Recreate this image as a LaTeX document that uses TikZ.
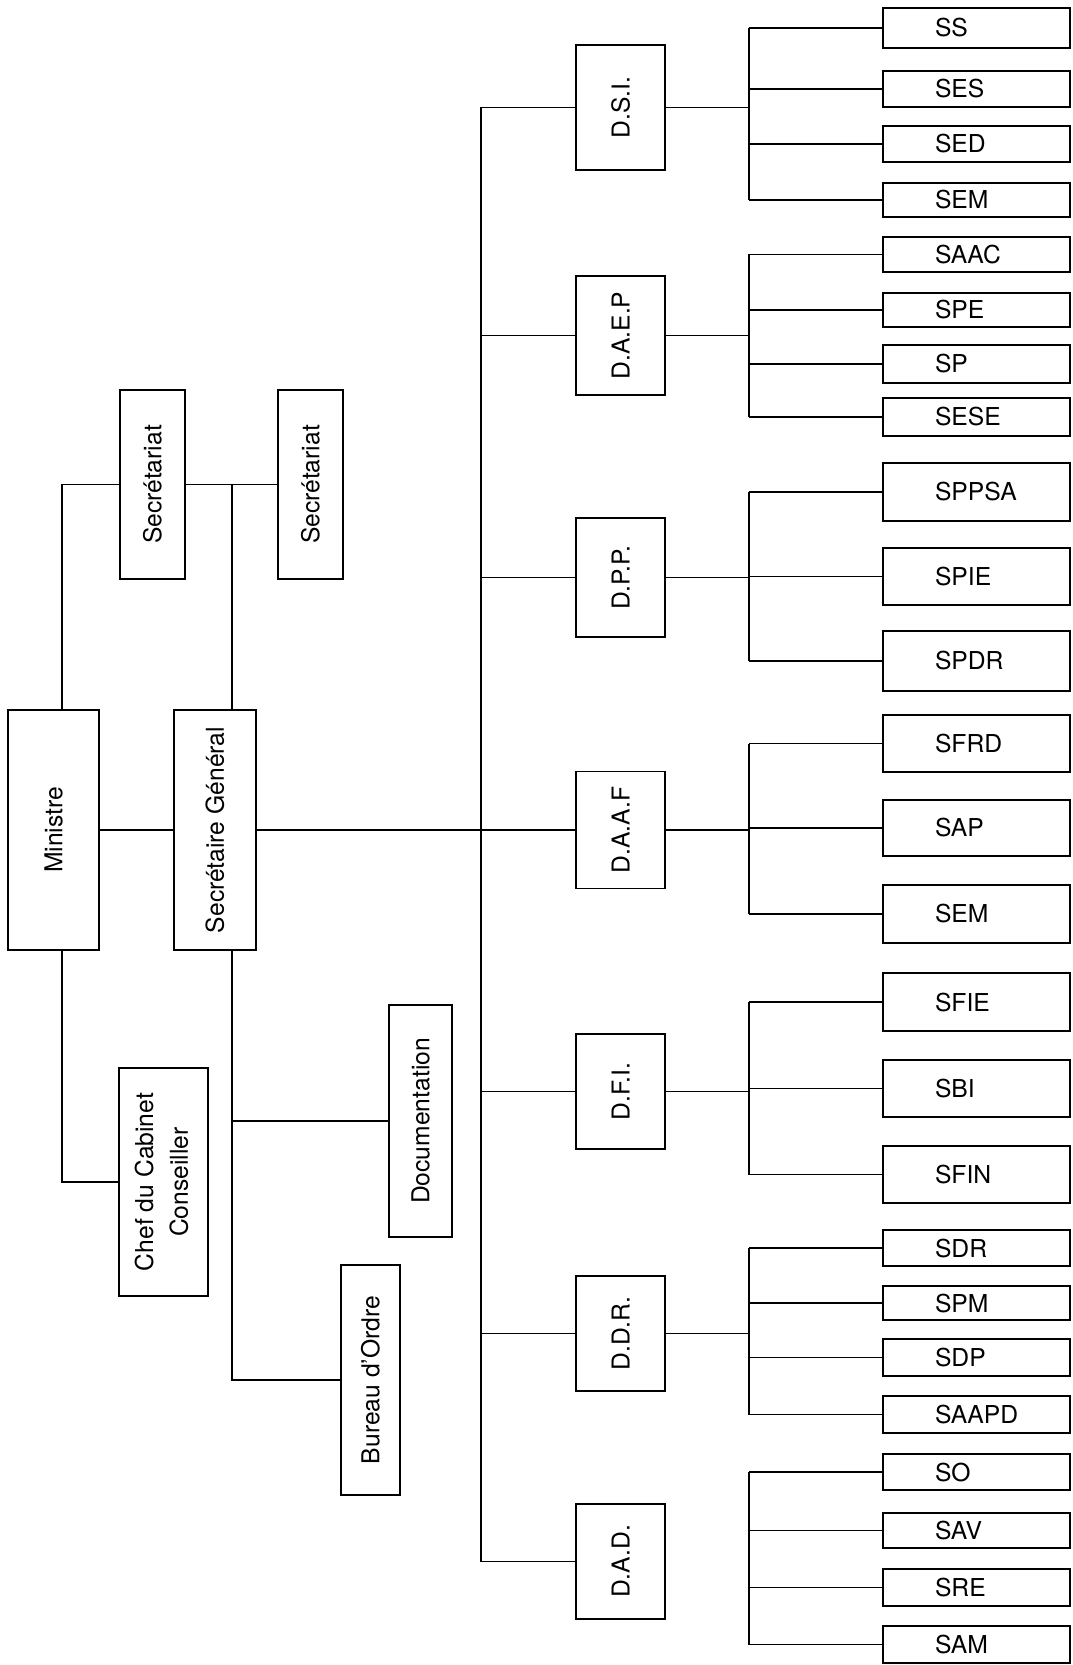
\documentclass[tikz,border=0pt]{standalone}
\usepackage{fontspec}
\setmainfont{TeX Gyre Heros}
\newcommand\lbl[1]{\makebox[62.25pt][l]{#1}}
\begin{document}
\begin{tikzpicture}[x=0.75pt,y=-0.75pt,
  box/.style 2 args={draw, line width=1.4pt, inner sep=0pt,
    minimum width={#1*0.75pt}, minimum height={#2*0.75pt},
    font=\fontsize{18.5}{26}\selectfont, align=center},
  sub/.style={box={187}{#1}},
  dir/.style={box={89}{#1}},
  link/.style={line width=1pt}]
\useasboundingbox[fill=white] (0,0) rectangle (1072,1665);

% left part
\node[box={91}{240}] (min) at (53.5,830) {\rotatebox{90}{Ministre}};
\node[box={82}{240}] (sg) at (215,830) {\rotatebox{90}{Secrétaire Général}};
\node[box={65}{189}] (sec1) at (152.5,484.5) {\rotatebox{90}{Secrétariat}};
\node[box={65}{189}] (sec2) at (310.5,484.5) {\rotatebox{90}{Secrétariat}};
\node[box={89}{228}] (chef) at (163.5,1182) {\rotatebox{90}{\begin{tabular}{@{}c@{}}Chef du Cabinet\\Conseiller\end{tabular}}};
\node[box={63}{232}] (doc) at (420.5,1121) {\rotatebox{90}{Documentation}};
\node[box={59}{230}] (bur) at (370.5,1380) {\rotatebox{90}{Bureau d'Ordre}};

\coordinate (mx) at (62,0);
\coordinate (gx) at (232,0);
\coordinate (bx) at (481,0);
\coordinate (sx) at (749,0);

% directors
\node[dir=125] (dsi) at (620.5,107.5) {\rotatebox{90}{D.S.I.}};
\node[dir=119] (daep) at (620.5,335.5) {\rotatebox{90}{D.A.E.P}};
\node[dir=119] (dpp) at (620.5,577.5) {\rotatebox{90}{D.P.P.}};
\node[dir=117] (daaf) at (620.5,830) {\rotatebox{90}{D.A.A.F}};
\node[dir=115] (dfi) at (620.5,1091.5) {\rotatebox{90}{D.F.I.}};
\node[dir=115] (ddr) at (620.5,1333.5) {\rotatebox{90}{D.D.R.}};
\node[dir=115] (dad) at (620.5,1561.5) {\rotatebox{90}{D.A.D.}};

% services
\node[sub=40] (ss) at (976.5,28) {\lbl{SS}};
\node[sub=36] (ses) at (976.5,89) {\lbl{SES}};
\node[sub=36] (sed) at (976.5,144) {\lbl{SED}};
\node[sub=34] (sem) at (976.5,200) {\lbl{SEM}};
\node[sub=35] (saac) at (976.5,254.5) {\lbl{SAAC}};
\node[sub=34] (spe) at (976.5,310) {\lbl{SPE}};
\node[sub=38] (sp) at (976.5,364) {\lbl{SP}};
\node[sub=38] (sese) at (976.5,417) {\lbl{SESE}};
\node[sub=58] (sppsa) at (976.5,492) {\lbl{SPPSA}};
\node[sub=57] (spie) at (976.5,576.5) {\lbl{SPIE}};
\node[sub=60] (spdr) at (976.5,661) {\lbl{SPDR}};
\node[sub=57] (sfrd) at (976.5,743.5) {\lbl{SFRD}};
\node[sub=56] (sap) at (976.5,828) {\lbl{SAP}};
\node[sub=58] (semb) at (976.5,914) {\lbl{SEM}};
\node[sub=58] (sfie) at (976.5,1002) {\lbl{SFIE}};
\node[sub=57] (sbi) at (976.5,1088.5) {\lbl{SBI}};
\node[sub=57] (sfin) at (976.5,1174.5) {\lbl{SFIN}};
\node[sub=36] (sdr) at (976.5,1248) {\lbl{SDR}};
\node[sub=34] (spm) at (976.5,1303) {\lbl{SPM}};
\node[sub=37] (sdp) at (976.5,1357.5) {\lbl{SDP}};
\node[sub=37] (saapd) at (976.5,1414.5) {\lbl{SAAPD}};
\node[sub=36] (so) at (976.5,1472) {\lbl{SO}};
\node[sub=35] (sav) at (976.5,1530.5) {\lbl{SAV}};
\node[sub=37] (sre) at (976.5,1587.5) {\lbl{SRE}};
\node[sub=37] (sam) at (976.5,1644.5) {\lbl{SAM}};

% left connectors
\draw[link] (min.north -| mx) |- (sec1.west);
\draw[link] (sec1.east) -- (sec2.west);
\draw[link] (sg.north -| gx) -- (gx |- sec1.east);
\draw[link] (min.east) -- (sg.west);
\draw[link] (sg.east) -- (daaf.west);
\draw[link] (min.south -| mx) |- (chef.west);
\draw[link] (sg.south -| gx) |- (bur.west);
\draw[link] (gx |- doc.west) -- (doc.west);

% main bus
\draw[link] (bx |- dsi.west) -- (bx |- dad.west);
\foreach \d in {dsi,daep,dpp,dfi,ddr,dad}
  \draw[link] (bx |- \d.west) -- (\d.west);

% sub buses
\foreach \d/\f/\l in {dsi/ss/sem, daep/saac/sese, dpp/sppsa/spdr, daaf/sfrd/semb, dfi/sfie/sfin, ddr/sdr/saapd, dad/so/sam}
  \draw[link] (sx |- \f.west) -- (sx |- \l.west);
\foreach \d in {dsi,daep,dpp,daaf,dfi,ddr}
  \draw[link] (\d.east) -- (sx |- \d.east);
\foreach \s in {ss,ses,sed,sem,saac,spe,sp,sese,sppsa,spie,spdr,sfrd,sap,semb,sfie,sbi,sfin,sdr,spm,sdp,saapd,so,sav,sre,sam}
  \draw[link] (sx |- \s.west) -- (\s.west);
\end{tikzpicture}
\end{document}
